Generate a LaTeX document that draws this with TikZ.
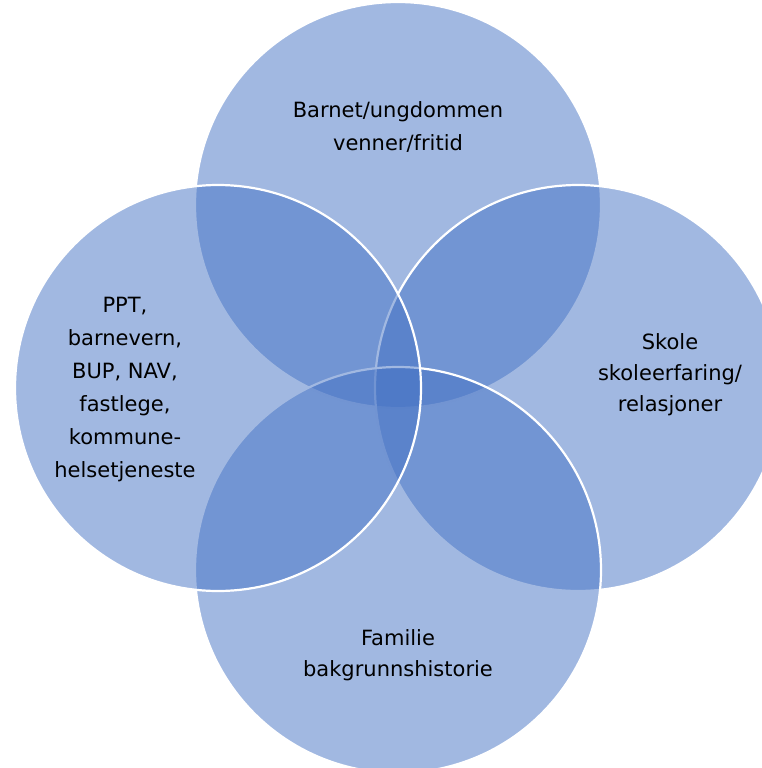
\documentclass[tikz,border=0pt]{standalone}
\usepackage{fontspec}
\setmainfont{DejaVu Sans}
\definecolor{venn}{HTML}{4472C4}
\begin{document}
\begin{tikzpicture}[x=1pt,y=-1pt,
  vcircle/.style={circle,inner sep=0pt,minimum size=406pt,fill=venn,fill opacity=0.5,draw=white,draw opacity=1,line width=2.2pt},
  vtext/.style={align=center,text=black,font=\fontsize{21}{33}\selectfont}]
\useasboundingbox (0,0) rectangle (762,768);
\begin{scope}
\clip (0,0) rectangle (762,768);
\node[vcircle] (top) at (398,205) {};
\node[vcircle] (right) at (578,388) {};
\node[vcircle] (bottom) at (398,570) {};
\node[vcircle] (left) at (218,388) {};
\end{scope}
\node[vtext] (ttop) at (398,127) {Barnet/ungdommen\\venner/fritid};
\node[vtext] (tleft) at (125,390) {PPT,\\barnevern,\\BUP, NAV,\\fastlege,\\kommune-\\helsetjeneste};
\node[vtext,font=\fontsize{21}{31}\selectfont] (tright) at (670,375) {Skole\\skoleerfaring/\\relasjoner};
\node[vtext,font=\fontsize{21}{31}\selectfont] (tbottom) at (398,655) {Familie\\bakgrunnshistorie};
\end{tikzpicture}
\end{document}
